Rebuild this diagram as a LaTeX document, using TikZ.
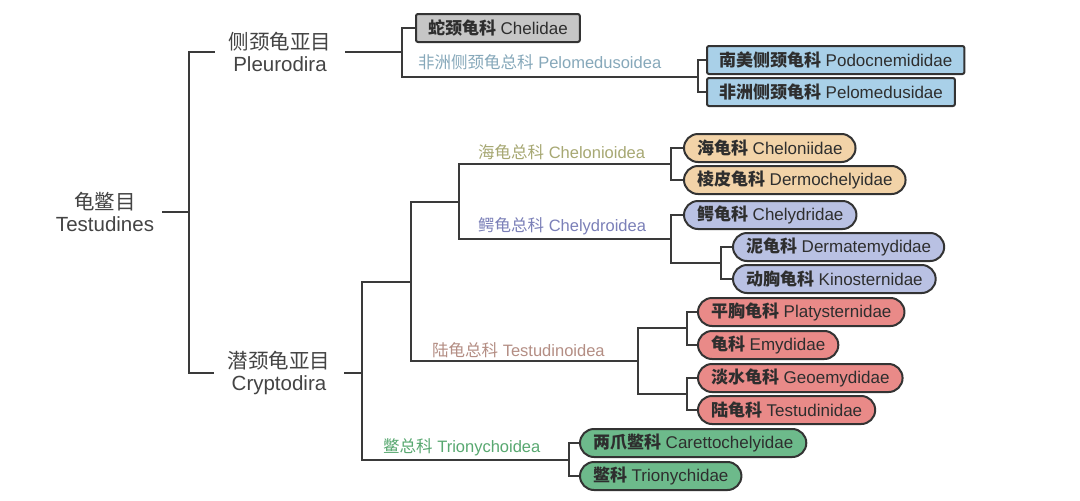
\documentclass[tikz,border=0pt]{standalone}
\usepackage{fontspec}
\setmainfont{Liberation Sans}
\newfontfamily\cjk{Noto Sans CJK SC}
\newcommand\zhs[1]{{\cjk #1}}
\newcommand\zhb[1]{{\cjk\bfseries #1}}
\definecolor{linec}{HTML}{3A3A3A}
\definecolor{boxline}{HTML}{333333}
\definecolor{txt}{HTML}{2E2E2E}
\definecolor{lab}{HTML}{444444}
\definecolor{cgray}{HTML}{C6C6C6}
\definecolor{cblue}{HTML}{A9D0E8}
\definecolor{corange}{HTML}{F2D3A8}
\definecolor{cpurp}{HTML}{B9C1E3}
\definecolor{cred}{HTML}{E98A88}
\definecolor{cgreen}{HTML}{6DBA8B}
\definecolor{tpelo}{HTML}{86A8BA}
\definecolor{tchn}{HTML}{A7A873}
\definecolor{tchy}{HTML}{7B80B8}
\definecolor{ttes}{HTML}{B48E84}
\definecolor{ttri}{HTML}{58A870}
\begin{document}
\begin{tikzpicture}[x=1pt,y=-1pt,
  br/.style={draw=linec, line width=2pt},
  fam/.style={draw=boxline, line width=2pt, anchor=west, minimum height=28pt,
    inner xsep=12pt, inner ysep=0pt, text=txt, font=\fontsize{17}{19}\selectfont},
  pill/.style={fam, rounded corners=14pt, inner xsep=13pt},
  sqbox/.style={fam, rounded corners=2pt},
  order/.style={align=center, text=lab, font=\fontsize{20.5}{22}\selectfont, inner xsep=14pt},
  supl/.style={anchor=west, inner sep=0pt, font=\fontsize{16.5}{18}\selectfont}]
\path[fill=white] (0,0) rectangle (1080,501);
\useasboundingbox (0,0) rectangle (1080,501);

% order / suborders
\node[order, inner xsep=8pt] (root) at (105,212) {\zhs{龟鳖目}\\Testudines};
\node[order] (pleu) at (280,52) {\zhs{侧颈龟亚目}\\Pleurodira};
\node[order] (cryp) at (279,373) {\zhs{潜颈龟亚目}\\Cryptodira};

% Pleurodira families
\node[sqbox, fill=cgray] (chel) at (415,28) {\zhb{蛇颈龟科} Chelidae};
\node[sqbox, fill=cblue] (podo) at (706,60) {\zhb{南美侧颈龟科} Podocnemididae};
\node[sqbox, fill=cblue] (pelo) at (706,92) {\zhb{非洲侧颈龟科} Pelomedusidae};
\node[supl, text=tpelo] (lpelo) at (418,62) {\zhs{非洲侧颈龟总科} Pelomedusoidea};

% Cryptodira families
\node[pill, fill=corange] (chn) at (683,148) {\zhb{海龟科} Cheloniidae};
\node[pill, fill=corange] (der) at (683,180) {\zhb{棱皮龟科} Dermochelyidae};
\node[pill, fill=cpurp] (chy) at (683,215) {\zhb{鳄龟科} Chelydridae};
\node[pill, fill=cpurp] (dmt) at (732,247) {\zhb{泥龟科} Dermatemydidae};
\node[pill, fill=cpurp] (kin) at (732,279) {\zhb{动胸龟科} Kinosternidae};
\node[pill, fill=cred] (pla) at (697,312) {\zhb{平胸龟科} Platysternidae};
\node[pill, fill=cred] (emy) at (697,345) {\zhb{龟科} Emydidae};
\node[pill, fill=cred] (geo) at (697,378) {\zhb{淡水龟科} Geoemydidae};
\node[pill, fill=cred] (tes) at (697,410) {\zhb{陆龟科} Testudinidae};
\node[pill, fill=cgreen] (car) at (579,443) {\zhb{两爪鳖科} Carettochelyidae};
\node[pill, fill=cgreen] (tri) at (579,476) {\zhb{鳖科} Trionychidae};

% superfamily labels
\node[supl, text=tchn] (lchn) at (478,152) {\zhs{海龟总科} Chelonioidea};
\node[supl, text=tchy] (lchy) at (478,226) {\zhs{鳄龟总科} Chelydroidea};
\node[supl, text=ttes] (ltes) at (432,350) {\zhs{陆龟总科} Testudinoidea};
\node[supl, text=ttri] (ltri) at (383,447) {\zhs{鳖总科} Trionychoidea};

% junctions
\coordinate (j0) at (189,212);
\coordinate (j1) at (402,52);
\coordinate (j2) at (698,77);
\coordinate (k0) at (362,373);
\coordinate (k1) at (411,282);
\coordinate (kT) at (569,460);
\coordinate (k2) at (459,202);
\coordinate (kTe) at (638,361);
\coordinate (kCn) at (671,164);
\coordinate (kCy) at (671,239);
\coordinate (kKi) at (721,263);
\coordinate (kP) at (687,328);
\coordinate (kG) at (687,394);

% connectors
\draw[br] (root.east) -- (j0);
\draw[br] (pleu.west) -| (j0) |- (cryp.west);
\draw[br] (pleu.east) -- (j1);
\draw[br] (chel.west) -| (j1) |- (j2);
\draw[br] (podo.west) -| (j2) |- (pelo.west);
\draw[br] (cryp.east) -- (k0);
\draw[br] (k1) -| (k0) |- (kT);
\draw[br] (k2) -| (k1) |- (kTe);
\draw[br] (kCn) -| (k2) |- (kCy);
\draw[br] (chn.west) -| (kCn) |- (der.west);
\draw[br] (chy.west) -| (kCy) |- (kKi);
\draw[br] (dmt.west) -| (kKi) |- (kin.west);
\draw[br] (kP) -| (kTe) |- (kG);
\draw[br] (pla.west) -| (kP) |- (emy.west);
\draw[br] (geo.west) -| (kG) |- (tes.west);
\draw[br] (car.west) -| (kT) |- (tri.west);
\end{tikzpicture}
\end{document}
